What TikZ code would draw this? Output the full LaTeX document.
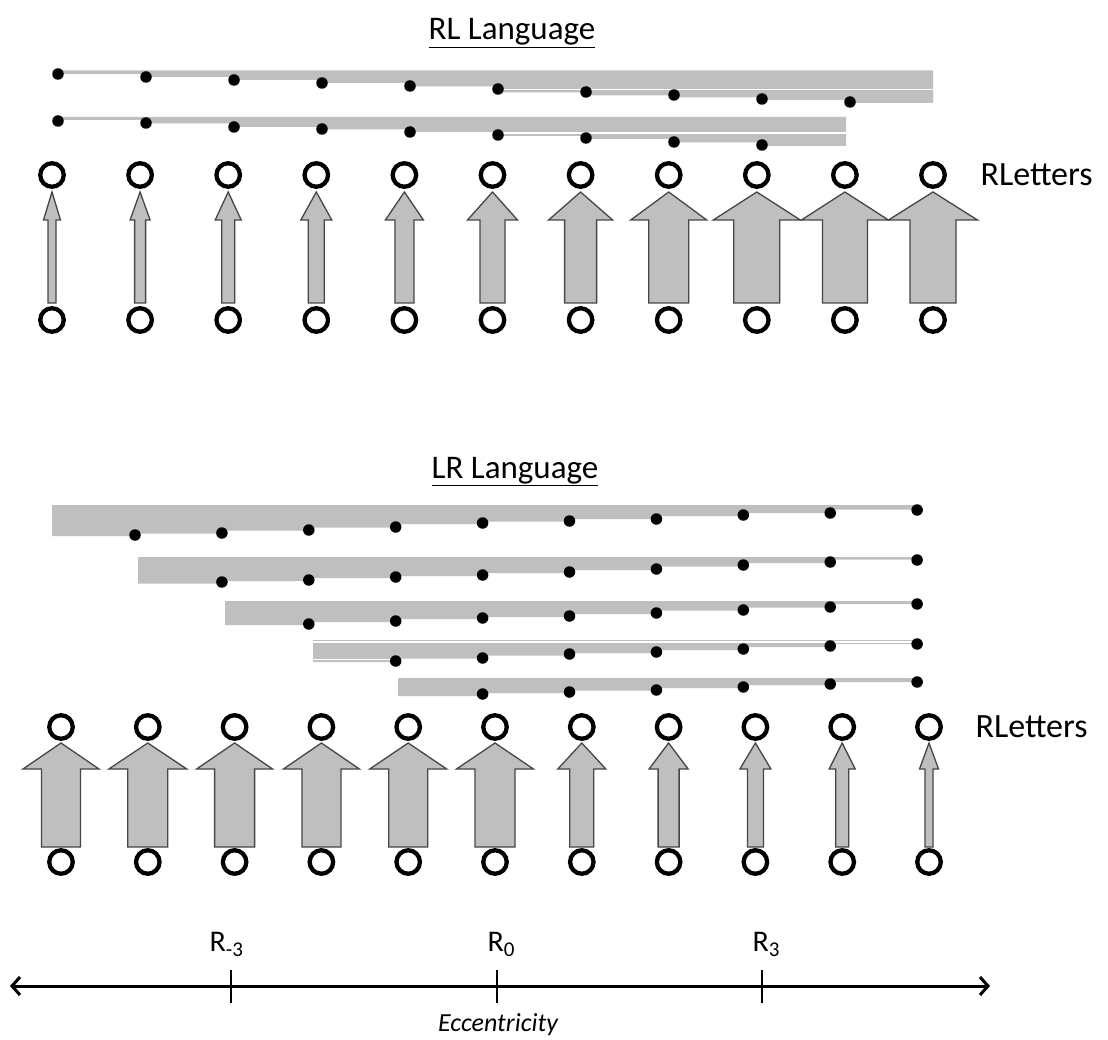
\documentclass[tikz,border=0pt]{standalone}
\usepackage{fontspec}
\setmainfont{Carlito}
\usetikzlibrary{arrows.meta,calc}
\definecolor{barfill}{RGB}{191,191,191}
\definecolor{arrowedge}{RGB}{70,70,70}
\begin{document}
\begin{tikzpicture}[x=1pt,y=-1pt,
  ring/.style={circle,draw=black,line width=4.3pt,minimum size=23.5pt,inner sep=0pt},
  dot/.style={circle,fill=black,minimum size=11.5pt,inner sep=0pt},
  gapline/.style={draw=white,line width=1.5pt},
  blk/.style={fill=barfill,draw=arrowedge,line width=1.3pt,line join=miter},
  title/.style={font=\fontsize{33}{40}\selectfont,anchor=base},
  lettersl/.style={font=\fontsize{34}{41}\selectfont,anchor=west},
  axlabel/.style={font=\fontsize{30}{36}\selectfont,anchor=base west},
  axisline/.style={line width=3pt,{Straight Barb[length=8pt,width=18pt]}-{Straight Barb[length=8pt,width=18pt]}},
  tickline/.style={line width=2.2pt},
]
\fill[white] (0,0) rectangle (1108,1040);
\useasboundingbox (0,0) rectangle (1108,1040);

% ---------- RL Language ----------
\node[title] (rlTitle) at (512,40) {\underline{RL Language}};

% stepped bars
\fill[barfill] (58,70.5) -- (933,70.5) -- (933,103) -| (850,100) -| (762,97.5) -| (674,95.5)
  -| (586,92.5) -| (498,86.5) -| (410,83) -| (322,80) -| (234,77) -| (146,74) -| (58,70.5) -- cycle;
\draw[gapline] (498,89.5) -- (933,89.5);
\fill[barfill] (58,117) -- (846,117) -- (846,146) -| (762,142.5) -| (674,139) -| (586,136)
  -| (498,132) -| (410,129.5) -| (322,127) -| (234,123.5) -| (146,120) -| (58,117) -- cycle;
\draw[gapline] (498,133) -- (846,133);

\foreach \k/\y in {0/74,1/77,2/80,3/83,4/86,5/89,6/92,7/95,8/99,9/102}
  \node[dot] (ra\k) at (58+88*\k,\y) {};
\foreach \k/\y in {0/121,1/123,2/127,3/129,4/132,5/135,6/138,7/142,8/145}
  \node[dot] (rc\k) at (58+88*\k,\y) {};

% letters and block arrows
\foreach \k/\h/\s in {0/8.5/4,1/10/5.5,2/13/6.5,3/15.5/8,4/19/9.5,5/25/12.5,
                      6/32/16,7/38/20,8/43.5/23,9/43.5/22.5,10/44.5/23} {
  \node[ring] (rt\k) at (52+88.1*\k,175) {};
  \node[ring] (rb\k) at (52+88.1*\k,320) {};
  \draw[blk] ($(rt\k.south)+(0,3.1)$) -- ($(rt\k.south)+(\h,31.1)$) -- ($(rt\k.south)+(\s,31.1)$)
    -- ($(rb\k.north)+(\s,-3.1)$) -- ($(rb\k.north)+(-\s,-3.1)$)
    -- ($(rt\k.south)+(-\s,31.1)$) -- ($(rt\k.south)+(-\h,31.1)$) -- cycle;
}
\node[lettersl] (rlLetters) at (977,175) {RLetters};

% ---------- LR Language ----------
\node[title] (lrTitle) at (515,478) {\underline{LR Language}};

\fill[barfill] (52,505) -- (917,505) -- (917,509.5) -| (830,513) -| (743,516) -| (656,519)
  -| (569,521.5) -| (482,524) -| (396,527.5) -| (308,530.5) -| (221,533.5) -| (135,536) -| (52,505) -- cycle;
\fill[barfill] (138,557) -- (917,557) -- (917,559.5) -| (830,563) -| (743,566.5) -| (656,570)
  -| (569,573) -| (482,576) -| (396,578) -| (308,581) -| (221,583.5) -| (138,557) -- cycle;
\fill[barfill] (225,601) -- (917,601) -- (917,604) -| (830,607.5) -| (743,610.5) -| (656,614)
  -| (569,617) -| (482,619) -| (396,622) -| (308,625) -| (225,601) -- cycle;
\fill[barfill] (313,640) -- (917,640) -- (917,644) -| (830,647) -| (743,650) -| (656,653)
  -| (569,655.5) -| (482,658.5) -| (396,662) -| (313,640) -- cycle;
\draw[gapline] (313,642) -- (917,642);
\draw[gapline] (313,659.5) -- (396,659.5);
\fill[barfill] (398,678) -- (917,678) -- (917,682) -| (830,685) -| (743,688) -| (656,690.5)
  -| (569,693) -| (482,696) -| (398,678) -- cycle;

\foreach \k/\y in {0/535,1/533,2/530,3/527,4/523,5/521,6/519,7/515,8/513,9/510}
  \node[dot] (la\k) at (135+86.9*\k,\y) {};
\foreach \k/\y in {1/582,2/580,3/577,4/575,5/572,6/569,7/565,8/562,9/560}
  \node[dot] (lb\k) at (135+86.9*\k,\y) {};
\foreach \k/\y in {2/624,3/621,4/618,5/616,6/613,7/610,8/607,9/604}
  \node[dot] (lc\k) at (135+86.9*\k,\y) {};
\foreach \k/\y in {3/661,4/658,5/654,6/652,7/649,8/646,9/644}
  \node[dot] (ld\k) at (135+86.9*\k,\y) {};
\foreach \k/\y in {4/694,5/692,6/690,7/687,8/684,9/682}
  \node[dot] (le\k) at (135+86.9*\k,\y) {};

\foreach \k/\h/\s in {0/38/19.5,1/39/20,2/38/20,3/38/19.5,4/38.5/19.5,5/38.5/20,
                      6/24/12,7/19.5/10.5,8/15.5/8,9/13/6.5,10/9.5/4} {
  \node[ring] (lt\k) at (61+86.8*\k,727) {};
  \node[ring] (lbot\k) at (61+86.8*\k,862) {};
  \draw[blk] ($(lt\k.south)+(0,2.1)$) -- ($(lt\k.south)+(\h,28.1)$) -- ($(lt\k.south)+(\s,28.1)$)
    -- ($(lbot\k.north)+(\s,-1.1)$) -- ($(lbot\k.north)+(-\s,-1.1)$)
    -- ($(lt\k.south)+(-\s,28.1)$) -- ($(lt\k.south)+(-\h,28.1)$) -- cycle;
}
\node[lettersl] (lrLetters) at (972,727) {RLetters};

% ---------- eccentricity axis ----------
\coordinate (axL) at (10,986);
\coordinate (axR) at (990,986);
\draw[axisline] (axL) -- (axR);
\coordinate (tkm) at (231,986);
\coordinate (tkz) at (497,986);
\coordinate (tkp) at (762,986);
\foreach \t in {tkm,tkz,tkp}
  \draw[tickline] ($(\t)+(0,-16)$) -- ($(\t)+(0,17)$);
\node[axlabel] (labm) at (206,951) {R\textsubscript{-3}};
\node[axlabel] (labz) at (484,951) {R\textsubscript{0}};
\node[axlabel] (labp) at (749,951) {R\textsubscript{3}};
\node[font=\fontsize{26}{32}\selectfont\itshape,anchor=base] (ecc) at (498,1031) {Eccentricity};
\end{tikzpicture}
\end{document}
